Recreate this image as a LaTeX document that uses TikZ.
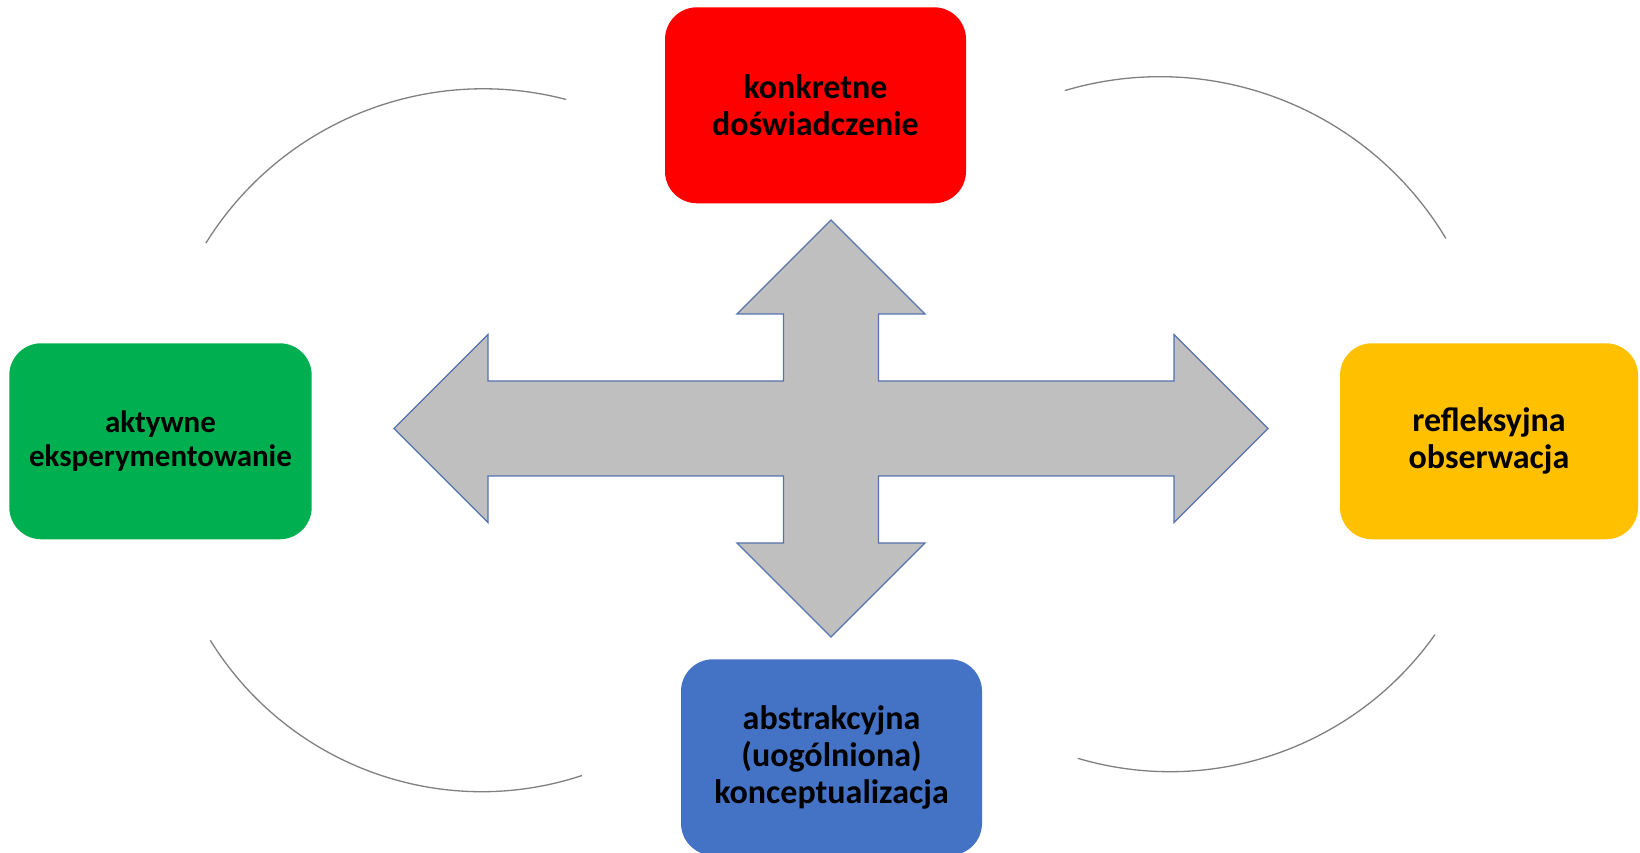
\documentclass[tikz,border=0pt]{standalone}
\usepackage{fontspec}
\setmainfont{Carlito}
\definecolor{cred}{HTML}{FF0000}
\definecolor{cgreen}{HTML}{00B050}
\definecolor{cyellow}{HTML}{FFC000}
\definecolor{cblue}{HTML}{4472C4}
\definecolor{arrowgray}{HTML}{BFBFBF}
\definecolor{arrowedge}{HTML}{5573AE}
\definecolor{arcgray}{HTML}{808080}
\begin{document}
\begin{tikzpicture}[x=1pt,y=1pt,
  box/.style={rounded corners=32pt, minimum width=301pt, minimum height=196pt,
    inner sep=0pt, align=center, text=black,
    font=\bfseries\fontsize{34}{37.3}\selectfont},
  arcline/.style={draw=arcgray, line width=1.3pt},
  arrowshape/.style={fill=arrowgray, draw=arrowedge, line width=1.3pt, line join=miter},
]
\useasboundingbox (0,0) rectangle (1640,853);
\clip (0,0) rectangle (1640,853);
\fill[white] (0,0) rectangle (1640,853);

% four-headed arrow
\draw[arrowshape] (831,633) -- (925,539) -- (878.5,539) -- (878.5,472) -- (1174,472)
  -- (1174,518.5) -- (1268,424.5) -- (1174,330.5) -- (1174,377) -- (878.5,377)
  -- (878.5,310) -- (925,310) -- (831,216) -- (737,310) -- (783.5,310)
  -- (783.5,377) -- (488,377) -- (488,330.5) -- (394,424.5) -- (488,518.5)
  -- (488,472) -- (783.5,472) -- (783.5,539) -- (737,539) -- cycle;

% arcs
\coordinate (ctl) at (483.3,437.7);
\coordinate (ctr) at (1160,442.8);
\coordinate (cbl) at (481.7,380.3);
\coordinate (cbr) at (1170,405.9);
\draw[arcline] (ctl) ++(148.2:326.5) arc[start angle=148.2, end angle=75.3, radius=326.5];
\draw[arcline] (ctr) ++(106.6:333.5) arc[start angle=106.6, end angle=31.0, radius=333.5];
\draw[arcline] (cbl) ++(211.7:319) arc[start angle=211.7, end angle=288.3, radius=319];
\draw[arcline] (cbr) ++(253.5:324.6) arc[start angle=253.5, end angle=324.7, radius=324.6];

% boxes
\node[box, fill=cred] (konkretne) at (815.5,747.7) {konkretne\\doświadczenie};
\node[box, fill=cgreen, minimum width=302.4pt, font=\bfseries\fontsize{31}{34}\selectfont]
  (aktywne) at (160.5,411.7) {aktywne\\eksperymentowanie};
\node[box, fill=cyellow, minimum width=298pt] (refleksyjna) at (1489,411.7) {refleksyjna\\obserwacja};
\node[box, fill=cblue] (abstrakcyjna) at (831.5,95.7) {abstrakcyjna\\(uogólniona)\\konceptualizacja};
\end{tikzpicture}
\end{document}
